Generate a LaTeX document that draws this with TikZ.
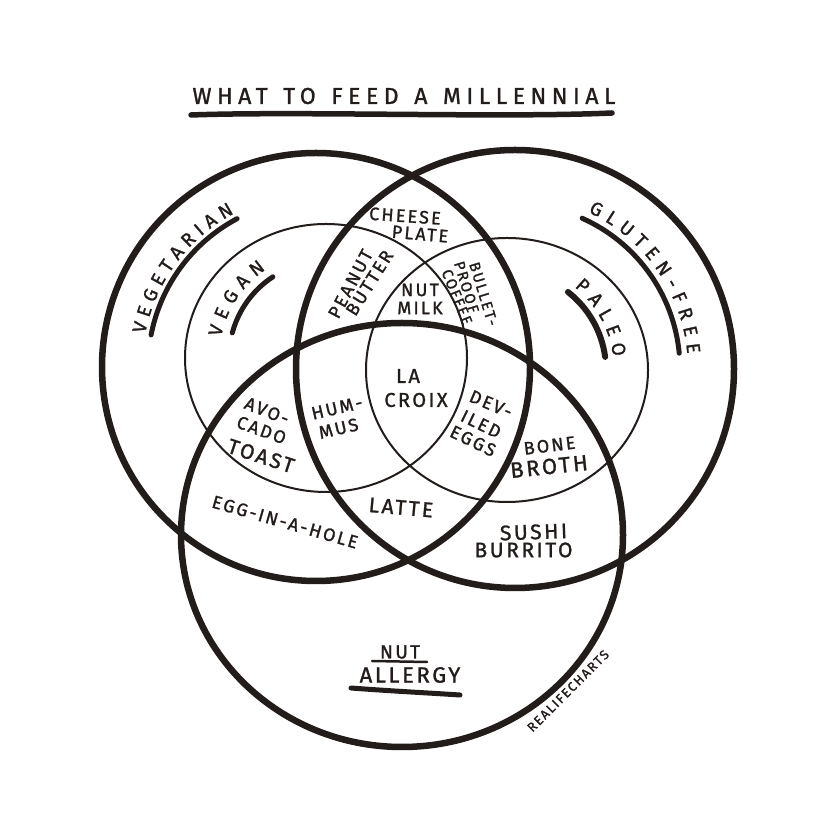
\documentclass[tikz,border=0pt]{standalone}
\usepackage{fontspec}
\newfontfamily\hand{Fira Sans}[LetterSpace=12,FakeBold=1.2]
\newfontfamily\handttl{Fira Sans}[LetterSpace=24,FakeBold=1.2]
\usetikzlibrary{decorations.text}
\definecolor{ink}{HTML}{221C1A}
\newcommand{\wsp}{\hspace{4pt}}
\begin{document}
\begin{tikzpicture}[x=1pt,y=1pt,
  bigring/.style={draw=ink,line width=6.5pt},
  smallring/.style={draw=ink,line width=2pt},
  ul/.style={draw=ink,line width=5pt,line cap=round},
  thinul/.style={draw=ink,line width=2.5pt,line cap=round},
  lbl/.style={font=\hand\fontsize{18}{18}\selectfont,inner sep=0pt,text=ink},
  big/.style={font=\hand\fontsize{21}{21}\selectfont,inner sep=0pt,text=ink},
  sml/.style={font=\hand\fontsize{15}{15}\selectfont,inner sep=0pt,text=ink},
  ttl/.style={font=\handttl\fontsize{23}{23}\selectfont,inner sep=0pt,text=ink},
  tiny/.style={font=\hand\fontsize{13}{13}\selectfont,inner sep=0pt,text=ink},
  curved/.style={decorate,decoration={text along path,text align={fit to path},
     text={|\hand\fontsize{19}{19}\selectfont\color{ink}|#1}}}]
\useasboundingbox (0,0) rectangle (818,818);
\fill[white] (0,0) rectangle (818,818);

% rings
\draw[smallring] (326,460) ellipse [x radius=141, y radius=134];
\draw[smallring] (507,448) ellipse [x radius=141, y radius=132];
\draw[bigring] (316,451) circle [radius=214];
\draw[bigring] (515,449) circle [radius=219];
\draw[bigring] (402,283) ellipse [x radius=221, y radius=212];

% title
\node[ttl] (title) at (404,722) {WHAT \wsp TO \wsp FEED \wsp A \wsp MILLENNIAL};
\draw[ul,line width=5.5pt] (191,703) .. controls (300,707) and (500,700) .. (612,705);

% set labels
\path[curved=VEGETARIAN] (316,451) ++(169:174) arc[start angle=169,end angle=118,radius=174];
\draw[ul] (316,451) ++(169:168) arc[start angle=169,end angle=118,radius=168];
\path[curved=VEGAN] (326,460) ++(168.7:107) arc[start angle=168.7,end angle=124.2,radius=107];
\draw[ul] (326,460) ++(165:97) arc[start angle=165,end angle=123.2,radius=97];
\path[curved=GLUTEN-FREE] (515,449) ++(65:173) arc[start angle=65,end angle=5,radius=173];
\draw[ul] (515,449) ++(66:165) arc[start angle=66,end angle=5.5,radius=165];
\path[curved=PALEO] (507,448) ++(51:107) arc[start angle=51,end angle=7,radius=107];
\draw[ul,line width=6pt] (507,448) ++(52:99) arc[start angle=52,end angle=7.6,radius=99];

\node[lbl,font=\hand\fontsize{19}{19}\selectfont] (nut) at (400,166) {NUT};
\draw[thinul] (372,157) -- (427,156);
\node[big,font=\hand\fontsize{22}{22}\selectfont] (allergy) at (410,143) {ALLERGY};
\draw[ul] (351,130) .. controls (390,127) and (430,125) .. (460,123);

% region labels
\node[lbl,rotate=-4] (cheese) at (405,602) {CHEESE};
\node[lbl,rotate=-5] (plate) at (420,584) {PLATE};
\node[lbl,rotate=62] (peanut) at (350.5,534) {PEANUT};
\node[lbl,rotate=58] (butter) at (369.5,535) {BUTTER};
\node[lbl] (nutm) at (420,528) {NUT};
\node[lbl] (milk) at (420,510) {MILK};
\node[sml,rotate=-73] (bullet) at (483.5,524) {BULLET-};
\node[sml,rotate=-73] (proof) at (466.5,531) {PROOF};
\node[sml,rotate=-68] (coffee) at (457,521) {COFFEE};
\node[lbl,font=\hand\fontsize{20}{20}\selectfont] (la) at (408,442) {LA};
\node[lbl,font=\hand\fontsize{20}{20}\selectfont] (croix) at (416,418) {CROIX};
\node[lbl,rotate=13] (hum) at (337,410) {HUM-};
\node[lbl,rotate=13] (mus) at (338.5,389.5) {MUS};
\node[lbl,rotate=-22] (avo) at (267,407) {AVO-};
\node[lbl,rotate=-20] (cado) at (261.5,388) {CADO};
\node[big,rotate=-18] (toast) at (261,362) {TOAST};
\node[lbl,rotate=-23] (dev) at (491,414) {DEV-};
\node[lbl,rotate=-26] (iled) at (481,394) {ILED};
\node[lbl,rotate=-26] (eggs) at (473,377) {EGGS};
\node[lbl,rotate=7] (bone) at (549.5,372.5) {BONE};
\node[big,font=\hand\fontsize{22}{22}\selectfont,rotate=6] (broth) at (549,351.5) {BROTH};
\node[lbl,rotate=-16] (egghole) at (285,296) {EGG-IN-A-HOLE};
\node[big,rotate=-5] (latte) at (401,310.5) {LATTE};
\node[big,rotate=2] (sushi) at (533.5,286) {SUSHI};
\node[big] (burrito) at (523.5,268) {BURRITO};

\node[tiny,rotate=45] (credit) at (568,127) {REALIFECHARTS};
\end{tikzpicture}
\end{document}
